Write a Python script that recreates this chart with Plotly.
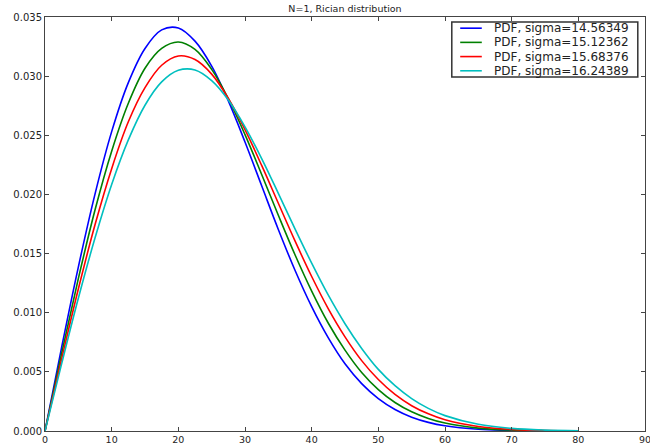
import plotly.graph_objects as go

# x positions (shared by all four curves)
x_vals = [0, 2.5, 5, 7.5, 10, 12.5, 15, 17.5, 20, 22.5, 25, 27.5, 30, 32.5, 35, 37.5,
          40, 42.5, 45, 47.5, 50, 52.5, 55, 57.5, 60, 65, 70, 75, 80]

# PDF values
blue_vals = [0.0, 0.00709, 0.01386, 0.02003, 0.02531, 0.02945, 0.03234, 0.03391, 0.03407,
             0.03296, 0.03085, 0.02791, 0.02443, 0.02073, 0.01704, 0.01359, 0.01051,
             0.00787, 0.00568, 0.00401, 0.00274, 0.00182, 0.00117, 0.00073, 0.00044,
             0.000148, 0.000044, 0.000011, 0.000003]
green_vals = [0.0, 0.00657, 0.01288, 0.01868, 0.02366, 0.02771, 0.03067, 0.03235, 0.03289,
              0.03226, 0.03057, 0.02810, 0.02506, 0.02169, 0.01824, 0.01490, 0.01183,
              0.00911, 0.00684, 0.00495, 0.00350, 0.00241, 0.00162, 0.00106, 0.00067,
              0.000245, 0.000081, 0.000024, 0.000006]
red_vals = [0.0, 0.00611, 0.01200, 0.01743, 0.02218, 0.02614, 0.02903, 0.03092, 0.03170,
            0.03140, 0.03017, 0.02812, 0.02548, 0.02245, 0.01925, 0.01607, 0.01306,
            0.01033, 0.00796, 0.00595, 0.00435, 0.00309, 0.00214, 0.00145, 0.00095,
            0.000381, 0.000137, 0.000045, 0.000013]
cyan_vals = [0.0, 0.00570, 0.01122, 0.01631, 0.02084, 0.02461, 0.02754, 0.02951, 0.03049,
             0.03052, 0.02962, 0.02798, 0.02571, 0.02303, 0.02009, 0.01709, 0.01419,
             0.01148, 0.00907, 0.00698, 0.00521, 0.00383, 0.00274, 0.00191, 0.00130,
             0.000564, 0.000220, 0.000078, 0.000025]

names = ["PDF, sigma=14.56349", "PDF, sigma=15.12362",
         "PDF, sigma=15.68376", "PDF, sigma=16.24389"]
colors = ["#0000ff", "#008000", "#ff0000", "#00bfbf"]
series = [blue_vals, green_vals, red_vals, cyan_vals]

x_ticks = [0, 10, 20, 30, 40, 50, 60, 70, 80, 90]
y_ticks = [0.0, 0.005, 0.010, 0.015, 0.020, 0.025, 0.030, 0.035]

fig = go.Figure()
for name, col, ys in zip(names, colors, series):
    fig.add_trace(go.Scatter(x=x_vals, y=ys, mode="lines", name=name, showlegend=False,
                             line=dict(color=col, width=1.6, shape="spline", smoothing=1.0)))

# compact legend box (matplotlib style), drawn in paper coordinates
leg_x0, leg_x1, leg_top, leg_bot = 0.678, 0.988, 0.988, 0.855
row_top, row_h = 0.973, 0.0343
fig.add_shape(type="rect", xref="paper", yref="paper", x0=leg_x0, x1=leg_x1,
              y0=leg_bot, y1=leg_top, line=dict(color="#333", width=1.5),
              fillcolor="white", layer="above")
for i, (name, col) in enumerate(zip(names, colors)):
    yy = row_top - i * row_h
    fig.add_shape(type="line", xref="paper", yref="paper", x0=0.692, x1=0.728,
                  y0=yy, y1=yy, line=dict(color=col, width=1.6), layer="above")
    fig.add_annotation(xref="paper", yref="paper", x=0.745, y=yy, text=name,
                       showarrow=False, xanchor="left", yanchor="middle",
                       font=dict(size=12, color="#222"))

fig.update_layout(
    width=650, height=446,
    margin=dict(l=45, r=5, t=17, b=15),
    paper_bgcolor="white", plot_bgcolor="white",
    font=dict(family="DejaVu Sans", size=10, color="#222"),
    title=dict(text="N=1, Rician distribution", xref="paper", x=0.5, xanchor="center",
               yref="container", y=0.988, yanchor="top", font=dict(size=9.5, color="#222")),
    showlegend=False,
)
fig.update_xaxes(range=[0, 90], tickvals=x_ticks, ticks="inside", ticklen=4,
                 tickfont=dict(size=9.5), ticklabeloverflow="allow",
                 showline=True, linecolor="#444", linewidth=1, mirror="ticks",
                 showgrid=False, zeroline=False, automargin=False)
fig.update_yaxes(range=[0, 0.035], tickvals=y_ticks, tickformat=".3f", ticks="inside",
                 ticklen=4, showline=True, linecolor="#444", linewidth=1, mirror="ticks",
                 showgrid=False, zeroline=False, automargin=False)

fig.write_html("out.html", config={"displayModeBar": False},
               post_script="document.body.style.margin='0px';")
